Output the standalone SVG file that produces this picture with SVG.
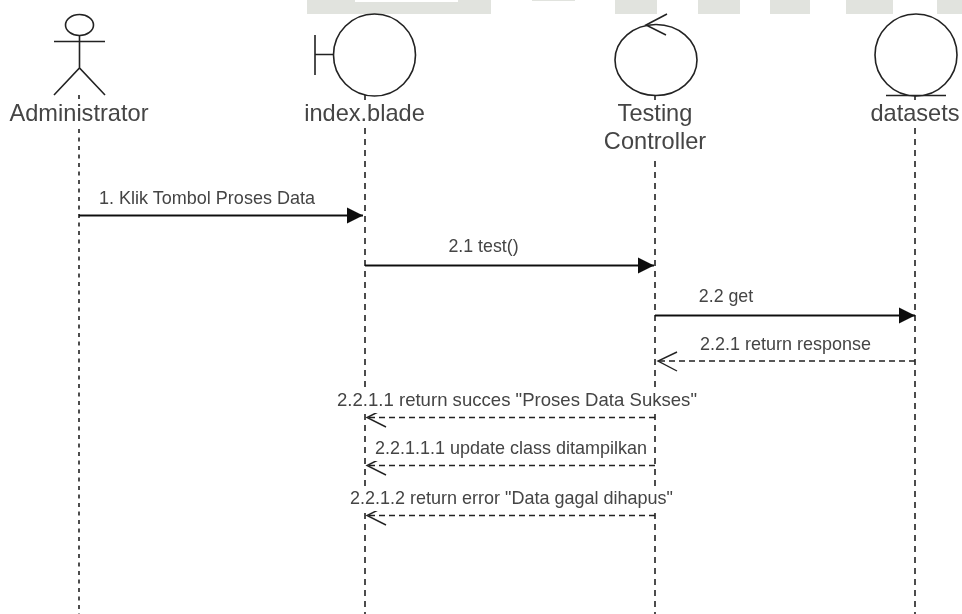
<svg xmlns="http://www.w3.org/2000/svg" width="962" height="614" viewBox="0 0 962 614">
<style>
.band{fill:#e1e3de}
.shape{fill:none;stroke:#222;stroke-width:1.6}
.life{fill:none;stroke:#222;stroke-width:1.6;stroke-dasharray:6 5}
.dotted{stroke-dasharray:4 4.500}
.msg{fill:none;stroke:#111;stroke-width:1.8}
.ret{fill:none;stroke:#222;stroke-width:1.4;stroke-dasharray:6 4}
.open{fill:none;stroke:#222;stroke-width:1.4}
.name{font-family:"Liberation Sans",Arial,sans-serif;font-size:23.6px;fill:#444;text-anchor:middle}
.lbl{font-family:"Liberation Sans",Arial,sans-serif;font-size:17.8px;fill:#444;text-anchor:middle}
.bg{fill:#fff}
</style>
<defs>
<marker id="solid" markerUnits="userSpaceOnUse" markerWidth="18" markerHeight="18" refX="16" refY="8.5" orient="auto"><path d="M0 0.5L16 8.5L0 16.5Z" fill="#111"/></marker>
<filter id="soft" x="0" y="0" width="100%" height="100%"><feGaussianBlur stdDeviation="0.45"/></filter>
</defs>
<rect width="962" height="614" fill="#fff"/>
<g filter="url(#soft)">
<g id="background-band">
<rect class="band" x="307" y="0" width="184" height="14"/>
<rect x="355" y="0" width="103" height="2" fill="#fff"/>
<rect x="532" y="0" width="43" height="1" fill="#e1e3de"/>
<rect class="band" x="615" y="0" width="42" height="14"/>
<rect class="band" x="698" y="0" width="42" height="14"/>
<rect class="band" x="770" y="0" width="40" height="14"/>
<rect class="band" x="846" y="0" width="47" height="14"/>
<rect class="band" x="937" y="0" width="25" height="14"/>
</g>
<g id="connectors">
<path class="life dotted" d="M79 95V614"/>
<path class="life" d="M365 95V614"/>
<path class="life" d="M655 95V614"/>
<path class="life" d="M915 95V614"/>
<path class="msg" d="M79 215.500H363" marker-end="url(#solid)"/>
<path class="msg" d="M365 265.500H654" marker-end="url(#solid)"/>
<path class="msg" d="M655 315.500H915" marker-end="url(#solid)"/>
<path class="ret" d="M915 361H658"/><path class="open" d="M677 352L658 361L677 371"/>
<path class="ret" d="M655 417.500H367"/><path class="open" d="M386 408L367 417.500L386 427"/>
<path class="ret" d="M655 465.500H367"/><path class="open" d="M386 456L367 465.500L386 475"/>
<path class="ret" d="M655 515.500H367"/><path class="open" d="M386 506L367 515.500L386 525"/>
</g>
<g id="message-labels">
<rect class="bg" x="97" y="188" width="220" height="20"/><text class="lbl" x="207" y="204" textLength="216" lengthAdjust="spacingAndGlyphs">1. Klik Tombol Proses Data</text>
<rect class="bg" x="447" y="237" width="73" height="20"/><text class="lbl" x="483.500" y="252">2.1 test()</text>
<rect class="bg" x="697" y="287" width="58" height="20"/><text class="lbl" x="726" y="302">2.2 get</text>
<rect class="bg" x="698" y="335" width="175" height="20"/><text class="lbl" x="785.500" y="350" textLength="171" lengthAdjust="spacingAndGlyphs">2.2.1 return response</text>
<rect class="bg" x="335" y="392" width="364" height="21"/><text class="lbl" x="517" y="406" textLength="360" lengthAdjust="spacingAndGlyphs">2.2.1.1 return succes "Proses Data Sukses"</text>
<rect class="bg" x="373" y="440" width="276" height="21"/><text class="lbl" x="511" y="454" textLength="272" lengthAdjust="spacingAndGlyphs">2.2.1.1.1 update class ditampilkan</text>
<rect class="bg" x="348" y="490" width="327" height="21"/><text class="lbl" x="511.500" y="504" textLength="323" lengthAdjust="spacingAndGlyphs">2.2.1.2 return error "Data gagal dihapus"</text>
</g>
<g id="administrator">
<ellipse class="shape" cx="79.500" cy="25" rx="14" ry="10.500"/>
<path class="shape" d="M79.500 35.500V68M54 41.500H105M54 95L79.500 68L105 95"/>
<rect class="bg" x="6" y="100" width="146" height="28"/>
<text class="name" x="79" y="121">Administrator</text>
</g>
<g id="index-blade">
<circle class="shape" cx="374.500" cy="55" r="41"/>
<path class="shape" d="M315 35V75M315 54.500H333"/>
<rect class="bg" x="301" y="100" width="127" height="28"/>
<text class="name" x="364.500" y="121">index.blade</text>
</g>
<g id="testing-controller">
<ellipse class="shape" cx="656" cy="60" rx="41" ry="35.500"/>
<path class="shape" d="M667 14L646 25L666 35"/>
<rect class="bg" x="612" y="100" width="86" height="28"/>
<rect class="bg" x="602" y="128" width="106" height="28"/>
<text class="name" x="655" y="121">Testing</text>
<text class="name" x="655" y="149">Controller</text>
</g>
<g id="datasets">
<circle class="shape" cx="916" cy="55" r="41"/>
<path class="shape" d="M886 95.500H946"/>
<rect class="bg" x="868" y="100" width="94" height="28"/>
<text class="name" x="915" y="121">datasets</text>
</g>
</g>
</svg>
